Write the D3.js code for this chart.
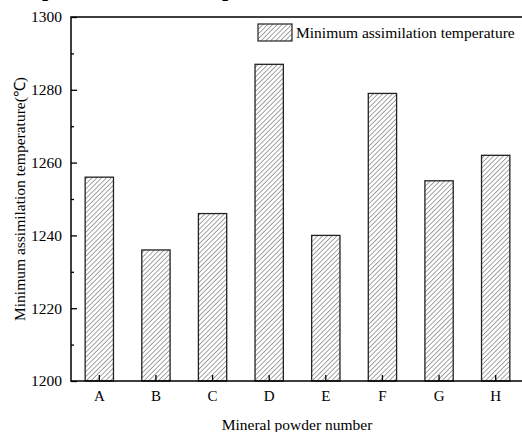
<!DOCTYPE html>
<html>
<head>
<meta charset="utf-8">
<script src="https://cdn.jsdelivr.net/npm/d3@7"></script>
<style>
  body { margin: 0; background: #fff; }
  svg text { font-family: "Liberation Serif", "Times New Roman", Times, serif; }
</style>
</head>
<body>
<svg id="chart" width="522" height="432"></svg>
<script>
const categories = ['A', 'B', 'C', 'D', 'E', 'F', 'G', 'H'];
const temperatures = [1256, 1236, 1246, 1287, 1240, 1279, 1255, 1262];
const yMajorTicks = [1200, 1220, 1240, 1260, 1280, 1300];
const yMinorTicks = [1210, 1230, 1250, 1270, 1290];
const seriesName = 'Minimum assimilation temperature';

const svg = d3.select('#chart');
const margin = { left: 71, top: 17, bottom: 381, right: 524 };
const serif = "'Liberation Serif', 'Times New Roman', Times, serif";

const x = d3.scaleBand()
  .domain(categories)
  .range([margin.left, margin.right])
  .paddingInner(0.5)
  .paddingOuter(0.25);

const y = d3.scaleLinear()
  .domain([1200, 1300])
  .range([margin.bottom, margin.top]);

// hatch fill
const defs = svg.append('defs');
defs.append('pattern')
  .attr('id', 'hatch')
  .attr('patternUnits', 'userSpaceOnUse')
  .attr('width', 3.4)
  .attr('height', 3.4)
  .attr('patternTransform', 'rotate(45)')
  .append('line')
  .attr('x1', 0).attr('y1', 0)
  .attr('x2', 0).attr('y2', 3.4)
  .attr('stroke', '#333')
  .attr('stroke-width', 0.9);

// cut-off heading remains at the very top
svg.selectAll('text.cut')
  .data([42, 222])
  .enter()
  .append('text')
  .attr('class', 'cut')
  .attr('x', d => d)
  .attr('y', -4)
  .attr('font-family', serif)
  .style('font-size', '22px')
  .style('font-weight', 'bold')
  .text('p');

// bars
svg.append('g')
  .selectAll('rect')
  .data(temperatures)
  .enter()
  .append('rect')
  .attr('x', (d, i) => x(categories[i]))
  .attr('y', d => y(d))
  .attr('width', x.bandwidth())
  .attr('height', d => y(1200) - y(d))
  .attr('fill', 'url(#hatch)')
  .attr('stroke', '#222')
  .attr('stroke-width', 1.3);

// y axis (ticks pointing inward)
const yAxis = svg.append('g')
  .attr('transform', `translate(${margin.left},0)`)
  .call(d3.axisRight(y).tickValues(yMajorTicks).tickSize(6).tickFormat(''));
yAxis.select('.domain').remove();
yAxis.selectAll('line').attr('stroke', '#000').attr('stroke-width', 1.3);

const yMinor = svg.append('g')
  .attr('transform', `translate(${margin.left},0)`)
  .call(d3.axisRight(y).tickValues(yMinorTicks).tickSize(3).tickFormat(''));
yMinor.select('.domain').remove();
yMinor.selectAll('line').attr('stroke', '#000').attr('stroke-width', 1.3);

svg.append('g')
  .selectAll('text')
  .data(yMajorTicks)
  .enter()
  .append('text')
  .attr('x', margin.left - 9)
  .attr('y', d => y(d))
  .attr('dy', '0.35em')
  .attr('text-anchor', 'end')
  .attr('font-family', serif)
  .style('font-size', '15.5px')
  .text(d => d);

// x axis (ticks pointing inward)
const xAxis = svg.append('g')
  .attr('transform', `translate(0,${margin.bottom})`)
  .call(d3.axisTop(x).tickSize(6).tickFormat(''));
xAxis.select('.domain').remove();
xAxis.selectAll('line').attr('stroke', '#000').attr('stroke-width', 1.3);

svg.append('g')
  .selectAll('text')
  .data(categories)
  .enter()
  .append('text')
  .attr('x', d => x(d) + x.bandwidth() / 2)
  .attr('y', 401)
  .attr('text-anchor', 'middle')
  .attr('font-family', serif)
  .style('font-size', '15px')
  .text(d => d);

// frame lines
svg.append('path')
  .attr('d', `M${margin.right},${margin.top}H${margin.left}V${margin.bottom}H${margin.right}`)
  .attr('fill', 'none')
  .attr('stroke', '#000')
  .attr('stroke-width', 1.5);

// axis titles
svg.append('text')
  .attr('transform', `translate(25,${(margin.top + margin.bottom) / 2}) rotate(-90)`)
  .attr('text-anchor', 'middle')
  .attr('font-family', serif)
  .style('font-size', '15.5px')
  .text('Minimum assimilation temperature(℃)');

svg.append('text')
  .attr('x', 297)
  .attr('y', 430)
  .attr('text-anchor', 'middle')
  .attr('font-family', serif)
  .style('font-size', '15.5px')
  .text('Mineral powder number');

// legend
const legend = svg.append('g').attr('transform', 'translate(258,24)');
legend.append('rect')
  .attr('width', 34)
  .attr('height', 17)
  .attr('fill', 'url(#hatch)')
  .attr('stroke', '#222')
  .attr('stroke-width', 1.2);
legend.append('text')
  .attr('x', 38)
  .attr('y', 14)
  .attr('font-family', serif)
  .style('font-size', '15.5px')
  .text(seriesName);
</script>
</body>
</html>
